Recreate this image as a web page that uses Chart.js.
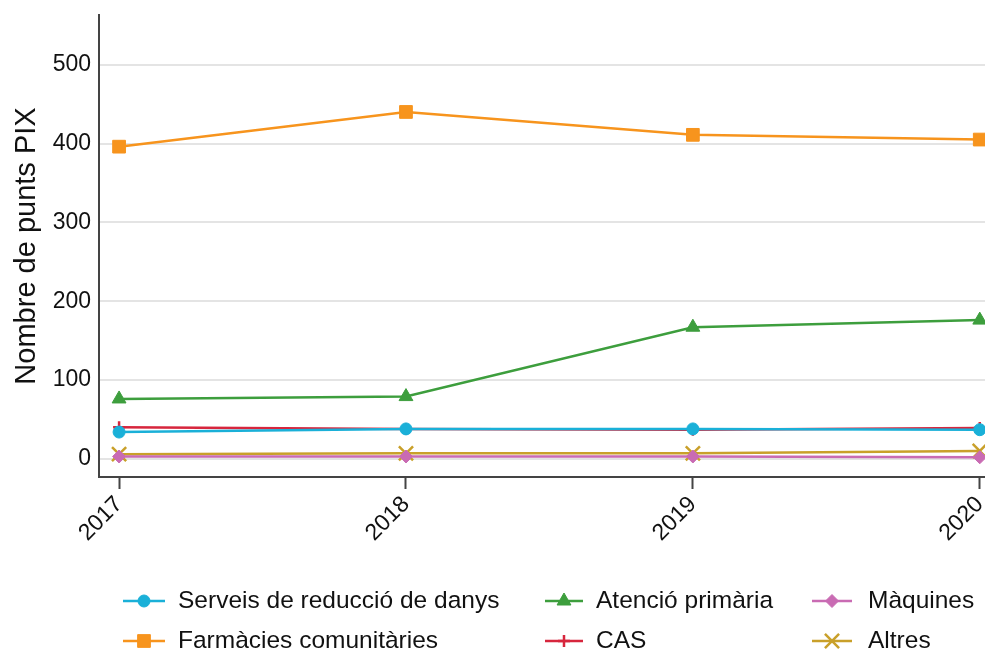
<!DOCTYPE html>
<html><head><meta charset="utf-8">
<script src="https://cdn.jsdelivr.net/npm/chart.js@4.4.1/dist/chart.umd.min.js"></script>
<style>html,body{margin:0;padding:0;background:#fff;overflow:hidden;width:985px;height:652px}canvas{display:block}</style>
</head><body>
<canvas id="c" width="998" height="652" style="width:998px;height:652px"></canvas>
<script>
const years = [2017, 2018, 2019, 2020];
const yTicks = [0, 100, 200, 300, 400, 500];
const serveis = [34, 38, 38, 37];
const farmacies = [396, 440, 411, 405];
const atencio = [76, 79, 167, 176];
const cas = [40, 38, 37, 39];
const maquines = [3, 3, 3, 2];
const altres = [6, 7, 7, 10];
const labels = ['Serveis de reducció de danys','Farmàcies comunitàries','Atenció primària','CAS','Màquines','Altres'];

const FONT = "'Liberation Sans', Arial, sans-serif";
function ds(label, data, color, style, radius, bw) {
  return {label, data: data.map((v,i)=>({x: years[i], y: v})), borderColor: color, backgroundColor: color,
    pointStyle: style, pointRadius: radius, pointHoverRadius: radius, pointBorderWidth: bw, borderWidth: 2.5, tension: 0};
}
const datasets = [
  ds(labels[0], serveis, '#1ab0d8', 'circle', 6, 1),
  ds(labels[1], farmacies, '#f7941d', 'rect', 9, 1),
  ds(labels[2], atencio, '#3d9e3d', 'triangle', 8, 1),
  ds(labels[3], cas, '#d7263d', 'cross', 6, 2.5),
  ds(labels[4], maquines, '#c96bb3', 'rectRot', 6.5, 1),
  ds(labels[5], altres, '#c9a02a', 'crossRot', 10, 2.5),
];

const legendPlugin = {
  id: 'customLegend',
  afterDraw(chart) {
    const ctx = chart.ctx;
    const colLine = [[123, 165], [545, 583], [812, 852]];
    const colText = [178, 596, 868];
    const rowY = [601, 641];
    ctx.save();
    chart.data.datasets.forEach((d, i) => {
      const col = Math.floor(i / 2), row = i % 2;
      const y = rowY[row];
      ctx.strokeStyle = d.borderColor; ctx.lineWidth = 2.5;
      ctx.beginPath(); ctx.moveTo(colLine[col][0], y); ctx.lineTo(colLine[col][1], y); ctx.stroke();
      ctx.fillStyle = d.backgroundColor; ctx.strokeStyle = d.borderColor; ctx.lineWidth = d.pointBorderWidth;
      Chart.helpers.drawPoint(ctx, {pointStyle: d.pointStyle, radius: d.pointRadius, borderWidth: d.pointBorderWidth, rotation: 0},
        (colLine[col][0] + colLine[col][1]) / 2, y);
      ctx.fillStyle = '#111'; ctx.font = '24.5px ' + FONT; ctx.textBaseline = 'middle'; ctx.textAlign = 'left';
      ctx.fillText(d.label, colText[col], y);
    });
    ctx.restore();
  }
};

new Chart(document.getElementById('c'), {
  type: 'line',
  data: { datasets },
  plugins: [legendPlugin],
  options: {
    responsive: false, animation: false,
    layout: { padding: { top: 15, left: 0, right: 0, bottom: 95 } },
    plugins: { legend: { display: false }, tooltip: { enabled: false } },
    scales: {
      x: {
        type: 'linear', min: 2016.93, max: 2020.02,
        afterBuildTicks: s => { s.ticks = years.map(v => ({value: v})); },
        afterFit: s => { s.height = 80; s.paddingLeft = 0; s.paddingRight = 0; },
        ticks: { callback: v => String(v), minRotation: 45, maxRotation: 45, color: '#111', font: { size: 23, family: FONT }, padding: 2 },
        grid: { drawOnChartArea: false, drawTicks: true, tickLength: 12, tickColor: '#444', tickWidth: 2 },
        border: { display: true, color: '#444', width: 2 }
      },
      y: {
        min: -23, max: 563,
        afterBuildTicks: s => { s.ticks = yTicks.map(v => ({value: v})); },
        afterFit: s => { s.width = 99; s.paddingTop = 0; s.paddingBottom = 0; },
        ticks: { color: '#111', font: { size: 23, family: FONT }, padding: 8 },
        grid: { color: '#e4e4e4', lineWidth: 2, drawTicks: false },
        border: { display: true, color: '#444', width: 2 },
        title: { display: true, text: 'Nombre de punts PIX', color: '#111', font: { size: 29, family: FONT }, padding: { top: 10, bottom: 2 } }
      }
    }
  }
});
</script>
</body></html>
